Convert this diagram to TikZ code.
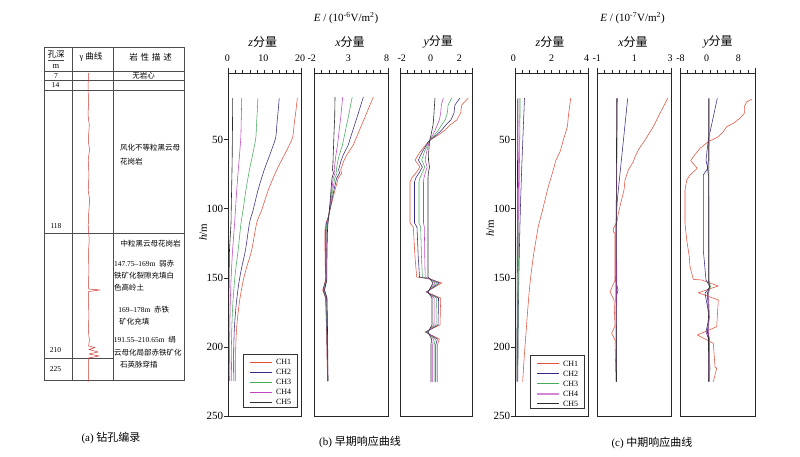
\documentclass[tikz,border=0pt]{standalone}
\usepackage{fontspec}
\setmainfont{Liberation Serif}
\newfontfamily\cjk{Noto Sans CJK SC}
\definecolor{chA}{RGB}{228,80,60}
\definecolor{chB}{RGB}{55,40,130}
\definecolor{chC}{RGB}{70,170,90}
\definecolor{chD}{RGB}{190,70,190}
\definecolor{chE}{RGB}{45,45,45}
\definecolor{gam}{RGB}{205,60,50}

\newcommand\interpcurve[4]{%
  \gdef\icpath{}%
  \foreach \yy/\xb/\xr in #4 {%
    \pgfmathsetmacro\xx{\xb+#3*(\xr-\xb)}%
    \xdef\icpath{\icpath(\xx,\yy)}%
  }%
  \edef\icdo{\noexpand\draw[#1] plot[#2] coordinates {\icpath};}%
  \icdo
}
\newcommand\pframe[2]{%
  \draw[pbox] (#1,73) rectangle (#2,416);
  \draw[pbox] (#1,68) -- (#1,73) (#2,68) -- (#2,73);
  \foreach \k in {1,...,9}{\draw[tk] ({#1+(#2-#1)*\k/10},73) -- ++(0,-3);}
}
\newcommand\daxis[2]{%
  \foreach \d in {50,100,150,200,250}{%
    \draw[tk] (#1,{70.5+1.382*\d}) -- ++(-4,0);
    \node[ylab,name=#2\d] at ({#1-5},{70.5+1.382*\d}) {\d};
  }
}
\newcommand\legendbox[3]{%
  \draw[legbox] (#1,#2) rectangle ++(54,53);
  \foreach \c/\n [count=\i] in {ln1/CH1,ln2/CH2,ln3/CH3,ln4/CH4,ln5/CH5}{%
    \draw[\c] ({#1+7},{#2+\i*10-2}) -- ++(22,0);
    \node[legtx,name=#3\i] at ({#1+33},{#2+\i*10-2}) {\n};
  }
}

\def\bzlist{98/232.7/297.3, 110/232.6/296, 123/232.5/294.3, 137/232.4/292.7, 145/232.3/289.3, 157/232.2/283.3, 170/232/276.7, 190/231.6/268.3, 210/231.2/261.7, 223/231/256.7, 250/229.5/251.7, 267/229.2/246.7, 283/229/242.7, 303/228.8/239.3, 327/228.7/236.7, 350/228.7/235.7, 381/229/235.7}
\def\bxlist{97/335/373.3, 117/334.7/365, 133/334/358.3, 145/333.6/353.3, 155/333.2/346.7, 162/333/343.3, 170/332.5/340.7, 173/333.5/341.7, 178/332/338.3, 190/331/335, 203/330/331.7, 217/328.7/328.3, 223/328/326, 230/327.5/325, 250/327/325, 280/326.8/325.5, 290/324.5/322.7, 298/327/325.5, 330/327.5/326.5, 381/328/327.5}
\def\bylist{98/435/468.3, 105/434.5/461.7, 113/434/460.7, 120/433.5/456.7, 125/433/450, 130/432/445, 135/431/438.3, 139/430/431.7, 142/429.5/428, 152/428.7/420, 160/428.5/415, 167/429.5/420, 172/428.5/416.7, 178/428/411.7, 182/428/410, 223/428/410, 227/428/413.3, 257/428/415, 277/428/416.7, 279/430/430, 283/433/441.7, 292/428/426, 298/432/440.7, 325/432/440, 332/428/425, 339/431.5/439.3, 345/431/437.3, 382/431/437.3}

\tikzset{
  every node/.style={inner sep=0pt, outer sep=0pt},
  pbox/.style={draw=black!85, line width=0.8pt},
  tk/.style={draw=black!85, line width=0.6pt},
  tbl/.style={draw=black!70, line width=0.6pt},
  ln1/.style={draw=chA, line width=0.55pt, line join=round},
  ln2/.style={draw=chB, line width=0.55pt, line join=round},
  ln3/.style={draw=chC, line width=0.55pt, line join=round},
  ln4/.style={draw=chD, line width=0.55pt, line join=round},
  ln5/.style={draw=chE, line width=0.6pt, line join=round},
  gline/.style={draw=gam, line width=0.5pt, line join=round},
  ticklab/.style={font=\fontsize{10}{10}\selectfont},
  ylab/.style={font=\fontsize{11}{11}\selectfont, anchor=east},
  comp/.style={font=\fontsize{12}{12}\selectfont},
  ttl/.style={font=\fontsize{11}{11}\selectfont},
  captxt/.style={font=\fontsize{11}{11}\selectfont},
  tx/.style={font=\fontsize{7.5}{8}\selectfont, anchor=west},
  txc/.style={font=\fontsize{7.5}{8}\selectfont},
  hd/.style={font=\fontsize{8.5}{9}\selectfont},
  legbox/.style={draw=black!80, fill=white, line width=0.6pt},
  legtx/.style={font=\fontsize{8}{8}\selectfont, anchor=west},
}

\begin{document}
\begin{tikzpicture}[x=1pt, y=-1pt]
\useasboundingbox (0,0) rectangle (800,456);

% ---------------- (a) borehole log ----------------
\draw[tbl] (44,47) rectangle (184,380);
\draw[tbl] (72,47) -- (72,380) (113.5,47) -- (113.5,380);
\draw[tbl] (44,71) -- (184,71) (44,80.5) -- (184,80.5) (44,90) -- (184,90)
           (44,233.3) -- (184,233.3) (44,358.3) -- (113.5,358.3);
\node[hd, name=hdA] at (56,54.5) {\cjk 孔深};
\draw[tbl, line width=0.5pt] (48,60.5) -- (64,60.5);
\node[hd, name=hdM] at (56,66) {m};
\node[hd, name=hdB] at (91,57) {γ {\cjk 曲线}};
\node[hd, name=hdC] at (150.5,57) {\cjk 岩\,\,性\,\,描\,\,述};
\node[txc, name=d7] at (56,76) {7};
\node[txc, name=d14] at (55.5,85.5) {14};
\node[txc, name=d118] at (56,226) {118};
\node[txc, name=d210] at (55.5,350) {210};
\node[txc, name=d225] at (55.5,369) {225};
\node[txc, name=r0] at (143.7,76) {\cjk 无岩心};
\node[tx, name=r1] at (120,148) {\cjk 风化不等粒黑云母};
\node[tx, name=r2] at (120,162) {\cjk 花岗岩};
\node[tx, name=r3] at (120.5,244) {\cjk 中粒黑云母花岗岩};
\node[tx, name=r4] at (114,264) {147.75–169m\ \ {\cjk 弱赤}};
\node[tx, name=r5] at (114,276) {\cjk 铁矿化裂隙充填白};
\node[tx, name=r6] at (114,288) {\cjk 色高岭土};
\node[tx, name=r7] at (118.3,310) {169–178m\ \ {\cjk 赤铁}};
\node[tx, name=r8] at (119.3,322) {\cjk 矿化充填};
\node[tx, name=r9] at (113.8,340) {191.55–210.65m\ \ {\cjk 绢}};
\node[tx, name=r10] at (114,352.5) {\cjk 云母化局部赤铁矿化};
\node[tx, name=r11] at (120,365) {\cjk 石英脉穿插};
\draw[gline] plot coordinates {(88.5,73) (88,90) (88.7,100) (88,115) (89.3,125) (88.3,140) (89.5,150) (88.2,160) (89,175) (88.2,190) (89.6,200) (88.6,215) (88.2,225) (89.2,240) (88.4,255) (89,270) (88.4,285) (88.6,289) (100,290) (88.6,291.5) (88.3,300) (89,315) (88.3,330) (89.4,340) (88.6,346) (95,347.5) (89,349.5) (98,352) (89,354) (99,356) (88.6,358) (88.7,370) (88.2,382)};
\node[captxt, name=capA] at (111,438) {(a) {\cjk 钻孔编录}};

% ---------------- (b) early response ----------------
\node[ttl, name=ttlB] at (346,18) {{\itshape E} / (10\textsuperscript{-6}V/m\textsuperscript{2})};
\node[comp, name=cbz] at (262.7,42) {{\itshape z}{\cjk 分量}};
\node[comp, name=cbx] at (350,42) {{\itshape x}{\cjk 分量}};
\node[comp, name=cby] at (438.3,42) {{\itshape y}{\cjk 分量}};
\foreach \xx/\lab [count=\i] in {227.3/0, 263.3/10, 300/20, 311.7/-2, 348.3/3, 386.7/8, 401.7/-2, 430.7/0, 459.3/2}
  \node[ticklab, name=tb\i] at (\xx,58.5) {\lab};
\pframe{228}{301}
\pframe{314}{388}
\pframe{400}{472}
\daxis{228}{yb}
\node[ylab, anchor=center, rotate=90, name=hb] at (203,232) {{\itshape h}/m};

\interpcurve{ln1}{smooth}{1}{\bzlist}
\interpcurve{ln2}{smooth}{0.72}{\bzlist}
\interpcurve{ln3}{smooth}{0.39}{\bzlist}
\interpcurve{ln4}{smooth}{0.14}{\bzlist}
\interpcurve{ln5}{smooth}{0}{\bzlist}

\interpcurve{ln1}{sharp plot}{1}{\bxlist}
\interpcurve{ln2}{sharp plot}{0.74}{\bxlist}
\interpcurve{ln3}{sharp plot}{0.45}{\bxlist}
\interpcurve{ln4}{sharp plot}{0.2}{\bxlist}
\interpcurve{ln5}{sharp plot}{0}{\bxlist}

\interpcurve{ln1}{sharp plot}{1}{\bylist}
\interpcurve{ln2}{sharp plot}{0.75}{\bylist}
\interpcurve{ln3}{sharp plot}{0.5}{\bylist}
\interpcurve{ln4}{sharp plot}{0.25}{\bylist}
\interpcurve{ln5}{sharp plot}{0}{\bylist}

\legendbox{243}{354}{lb}
\node[captxt, name=capB] at (360,442) {(b) {\cjk 早期响应曲线}};

% ---------------- (c) middle response ----------------
\node[ttl, name=ttlC] at (632.5,18) {{\itshape E} / (10\textsuperscript{-7}V/m\textsuperscript{2})};
\node[comp, name=ccz] at (550,42) {{\itshape z}{\cjk 分量}};
\node[comp, name=ccx] at (633,42) {{\itshape x}{\cjk 分量}};
\node[comp, name=ccy] at (718,42) {{\itshape y}{\cjk 分量}};
\foreach \xx/\lab [count=\i] in {513.3/0, 551.7/2, 586.7/4, 596.7/-1, 634.3/1, 670/3, 680.5/-8, 706.7/0, 738.3/8}
  \node[ticklab, name=tc\i] at (\xx,58.5) {\lab};
\pframe{515}{588}
\pframe{597}{671}
\pframe{680}{755.5}
\daxis{515}{yc}
\node[ylab, anchor=center, rotate=90, name=hc] at (490,228) {{\itshape h}/m};

% z
\draw[ln1] plot[smooth] coordinates {(570.7,98) (568.3,116.7) (567.3,126.7) (563.3,140) (560,151.7) (556,160) (553.3,170) (548.3,186.7) (545,200) (541.7,213.3) (538.3,226.7) (536,240) (533.3,256.7) (530,283.3) (527.7,310) (526,333) (524,360) (522.7,381.7)};
\draw[ln2] plot[smooth] coordinates {(524.5,98) (522.8,140) (521.3,180) (520,223) (518.8,280) (518.2,330) (517.8,381.7)};
\draw[ln3] plot[smooth] coordinates {(520.2,98) (519.5,160) (518.6,250) (517.6,381.7)};
\draw[ln4] plot[smooth] coordinates {(519.2,98) (518.7,160) (518,250) (517.3,381.7)};
\draw[ln5] plot[smooth] coordinates {(517.8,98) (517.4,200) (516.9,381.7)};
% x
\draw[ln1] plot coordinates {(667.7,98.3) (660,113.3) (653.3,126.7) (645,140) (638.3,150) (635,156.7) (633.3,161.7) (628.3,170) (625,180) (624,190) (620.7,203.3) (618.3,213.3) (616.7,223.3) (613.3,228.3) (613.3,231.7) (615,233.3) (615,256.7) (615,280) (610,291.7) (614,300) (615,326) (611.7,333.3) (615,340) (616,381.7)};
\draw[ln2] plot coordinates {(627.7,98.3) (617.3,200) (616,223.3) (616,281.7) (618,290) (616,298) (616.3,381.7)};
\draw[ln3] plot coordinates {(617.5,98.3) (616.6,200) (616.3,381.7)};
\draw[ln4] plot coordinates {(617,98.3) (616.4,200) (616.6,381.7)};
\draw[ln5] plot coordinates {(616.7,98.3) (616.2,223) (616,290) (616.5,381.7)};
% y
\draw[ln1] plot coordinates {(751.7,99.3) (746.7,101.7) (744.3,106.7) (744.3,113.3) (740,118.3) (733.3,123.3) (726.7,126.7) (723.3,131.7) (718.3,136.7) (713.3,139.3) (708.3,141.7) (700,148.3) (693.3,156.7) (690.7,160.7) (697.3,168.3) (690,175) (686.7,180) (685,190) (685,223.3) (686.7,240) (689.3,256.7) (690,266.7) (693.3,279.3) (701.7,280) (718.3,286) (698.3,292.7) (718.3,300) (716.7,326.7) (697.3,335) (713.3,343.3) (715,366.7) (716.7,368.3) (713.3,381.7)};
\draw[ln2] plot coordinates {(717.3,98.3) (708.3,140) (706,160) (707.7,168.3) (703.3,175) (703.3,250) (706,280) (710,286.7) (705,293.3) (709.3,316.7) (706,331.7) (708.3,338.3) (710,368.3) (708.3,381.7)};
\draw[ln3] plot coordinates {(709.3,98.3) (709.3,140) (709,160) (708.7,168) (709,200) (709,280) (710.5,287) (708.5,293) (709.5,317) (708,332) (709.5,338) (709.5,381.7)};
\draw[ln4] plot coordinates {(708.8,98.3) (708.8,280) (709.8,287) (708.2,293) (708.8,381.7)};
\draw[ln5] plot coordinates {(708.3,98.3) (708.3,160) (707.5,168) (708.3,175) (708.3,280) (709.5,287) (707.5,293) (708.5,317) (707.5,332) (708.5,338) (708.3,381.7)};

\legendbox{530}{355.7}{lc}
\draw[draw=chD!65, line width=1.6pt] (537,393.7) -- ++(22,0);
\node[captxt, name=capC] at (652,442.5) {(c) {\cjk 中期响应曲线}};
\end{tikzpicture}
\end{document}
